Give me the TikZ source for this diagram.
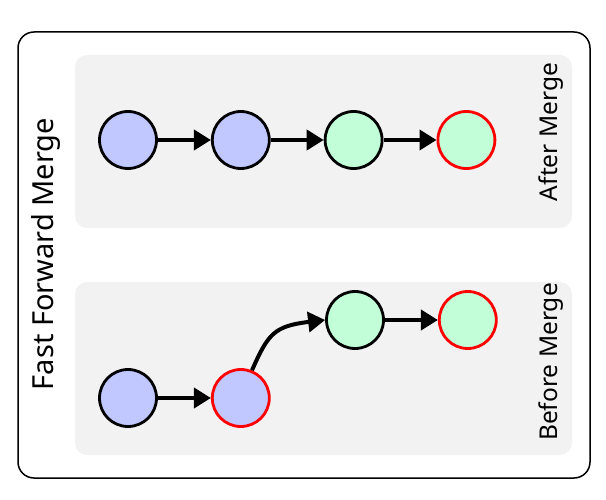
\documentclass[tikz,border=0pt]{standalone}
\usepackage{fontspec}
\setmainfont{Noto Sans}
\usetikzlibrary{positioning, arrows.meta}

\definecolor{commitblue}{HTML}{C0C8FF}
\definecolor{commitgreen}{HTML}{C2FFD8}
\definecolor{panelgray}{HTML}{F2F2F2}

\begin{document}
\begin{tikzpicture}[x=1pt, y=-1pt, node distance=53pt,
    commit/.style={circle, draw, line width=2.8pt, minimum size=57pt, inner sep=0pt},
    oldcommit/.style={commit, fill=commitblue},
    newcommit/.style={commit, fill=commitgreen},
    head/.style={draw=red},
    link/.style={-{Triangle[length=17pt, width=20pt]}, line width=4pt},
    panel/.style={fill=panelgray, rounded corners=12pt},
    panellabel/.style={rotate=90, font=\fontsize{24.5}{29}\selectfont}]

    \useasboundingbox (0,0) rectangle (606,500);
    \draw[line width=1.5pt, rounded corners=16pt] (18,32) rectangle (590,478);
    \node[rotate=90, font=\fontsize{29}{34}\selectfont] (title) at (46,254) {Fast Forward Merge};

    % after merge
    \fill[panel] (75,55) rectangle (572,228);
    \node[panellabel] (after) at (551,132) {After Merge};
    \node[oldcommit] (a1) at (128,140) {};
    \node[oldcommit, right=of a1] (a2) {};
    \node[newcommit, right=of a2] (a3) {};
    \node[newcommit, head, right=of a3] (a4) {};

    \draw[link] (a1) -- (a2);
    \draw[link] (a2) -- (a3);
    \draw[link] (a3) -- (a4);

    % before merge
    \fill[panel] (75,282) rectangle (572,455);
    \node[panellabel] (before) at (551,362) {Before Merge};
    \node[oldcommit] (b1) at (128,398) {};
    \node[oldcommit, head, right=of b1] (b2) {};
    \node[newcommit] (b3) at (355,320) {};
    \node[newcommit, head, right=of b3] (b4) {};

    \draw[link] (b1) -- (b2);
    \draw[link] (b2.68) .. controls (268,334) and (274,326) .. (b3.west);
    \draw[link] (b3) -- (b4);
    
\end{tikzpicture}
\end{document}
